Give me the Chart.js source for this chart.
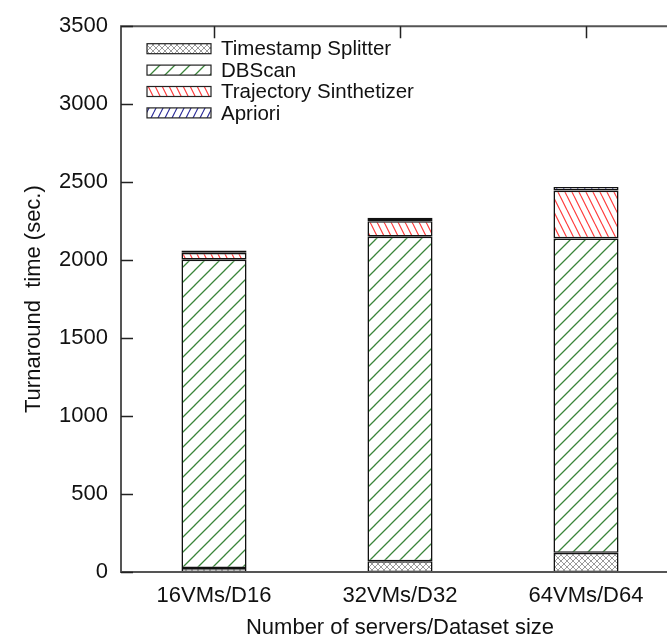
<!DOCTYPE html>
<html><head><meta charset="utf-8">
<style>html,body{margin:0;padding:0;background:#fff;overflow:hidden;} #wrap{width:700px;height:639px;}</style>
<script src="https://cdn.jsdelivr.net/npm/chart.js@4"></script>
</head><body><div id="wrap"><canvas id="c" width="700" height="639"></canvas></div>
<script>
const categories = ['16VMs/D16', '32VMs/D32', '64VMs/D64'];
const seriesNames = ['Timestamp Splitter', 'DBScan', 'Trajectory Sinthetizer', 'Apriori'];
const timestampSplitter = [25, 69, 123];
const dbscan = [1978, 2081, 2016];
const trajectorySinthetizer = [44, 100, 307];
const apriori = [15, 21, 23];
const yMin = 0, yMax = 3500, yStep = 500;
const xTitle = 'Number of servers/Dataset size';
const yTitle = 'Turnaround  time (sec.)';

const FONT = "'Liberation Sans', Arial, Helvetica, sans-serif";

function makePattern(w, h, color, lw, segs) {
  const c = document.createElement('canvas');
  c.width = w; c.height = h;
  const g = c.getContext('2d');
  g.fillStyle = '#fff'; g.fillRect(0, 0, w, h);
  g.strokeStyle = color; g.lineWidth = lw;
  g.beginPath();
  segs.forEach(s => { g.moveTo(s[0], s[1]); g.lineTo(s[2], s[3]); });
  g.stroke();
  return g.createPattern(c, 'repeat');
}
const patCross = makePattern(6, 6, '#9a9a9a', 1, [[-1,-1,7,7],[-1,7,7,-1]]);
const patGreen = makePattern(15, 15, '#3a853a', 1.3, [[-16,16,16,-16],[-1,16,16,-1],[-1,31,31,-1]]);
const patRed = makePattern(7, 14, '#ff3b3b', 1.2, [[-7,0,0,14],[0,0,7,14],[7,0,14,14]]);
const patBlue = makePattern(7, 14, '#2d2d9a', 1.2, [[-7,14,0,0],[0,14,7,0],[7,14,14,0]]);

const seriesValues = [timestampSplitter, dbscan, trajectorySinthetizer, apriori];
const fills = [patCross, patGreen, patRed, patBlue];

const datasets = seriesNames.map((n, i) => ({
  label: n,
  data: seriesValues[i],
  backgroundColor: fills[i],
  borderColor: '#111',
  borderWidth: 1.6,
  borderSkipped: false,
  categoryPercentage: 1.0,
  barPercentage: 0.35
}));

const framePlugin = {
  id: 'frame',
  afterDatasetsDraw(chart) {
    const { ctx, chartArea: a, scales: { x, y } } = chart;
    ctx.save();
    ctx.strokeStyle = '#555';
    ctx.lineWidth = 2;
    ctx.beginPath();
    ctx.moveTo(a.right, a.top); ctx.lineTo(a.left, a.top);
    ctx.lineTo(a.left, a.bottom); ctx.lineTo(a.right, a.bottom);
    ctx.stroke();
    ctx.strokeStyle = '#222';
    ctx.lineWidth = 1.5;
    ctx.beginPath();
    y.ticks.forEach((t, i) => {
      const py = Math.round(y.getPixelForTick(i)) + 0.5;
      ctx.moveTo(a.left, py); ctx.lineTo(a.left + 12, py);
      ctx.moveTo(a.right, py); ctx.lineTo(a.right - 12, py);
    });
    x.ticks.forEach((t, i) => {
      const px = Math.round(x.getPixelForTick(i)) + 0.5;
      ctx.moveTo(px, a.top); ctx.lineTo(px, a.top + 12);
    });
    ctx.stroke();
    // legend inside plot
    ctx.font = '20.5px ' + FONT;
    ctx.textBaseline = 'middle';
    ctx.textAlign = 'left';
    chart.data.datasets.forEach((d, i) => {
      const cy = a.top + 22.5 + i * 21.4;
      const sx = a.left + 26, sw = 64, sh = 10;
      ctx.fillStyle = d.backgroundColor;
      ctx.fillRect(sx, cy - sh / 2, sw, sh);
      ctx.strokeStyle = '#222';
      ctx.lineWidth = 1.2;
      ctx.strokeRect(sx, cy - sh / 2, sw, sh);
      ctx.fillStyle = '#111';
      ctx.fillText(d.label, a.left + 100, cy + 1);
    });
    ctx.restore();
  }
};

new Chart(document.getElementById('c'), {
  type: 'bar',
  data: { labels: categories, datasets },
  options: {
    responsive: false,
    animation: false,
    layout: { padding: { top: 14, right: 21, left: 0, bottom: 0 } },
    plugins: { legend: { display: false }, tooltip: { enabled: false } },
    scales: {
      x: {
        stacked: true,
        grid: { display: false, drawTicks: false },
        border: { display: false },
        ticks: { color: '#111', font: { family: FONT, size: 22 }, padding: 11 },
        title: { display: true, text: xTitle, color: '#111', font: { family: FONT, size: 22, lineHeight: 1.0 }, padding: { top: 0, bottom: 0 } },
        afterFit(s) { s.height = 67; }
      },
      y: {
        stacked: true,
        min: yMin, max: yMax,
        grid: { display: false, drawTicks: false },
        border: { display: false },
        ticks: { stepSize: yStep, color: '#111', font: { family: FONT, size: 22 }, padding: 13,
                 callback: (v) => String(v) },
        title: { display: true, text: yTitle, color: '#111', font: { family: FONT, size: 22 }, padding: { top: 21, bottom: 0 } },
        afterFit(s) { s.width = 121; }
      }
    }
  },
  plugins: [framePlugin]
});
</script>
</body></html>
